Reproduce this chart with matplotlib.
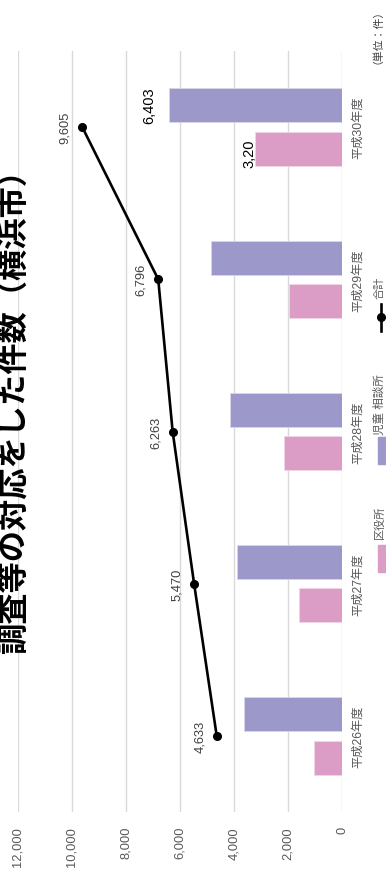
import matplotlib
matplotlib.use('Agg')
import matplotlib.pyplot as plt
from matplotlib.patches import Rectangle
from matplotlib.lines import Line2D
import numpy as np

plt.rcParams['font.family'] = ['Liberation Sans', 'Noto Sans CJK JP']

# 年度ごとの件数（横浜市）
years = ['平成26年度', '平成27年度', '平成28年度', '平成29年度', '平成30年度']
kuyakusho = [1023, 1582, 2133, 1970, 3202]      # 区役所
jidou_soudan = [3610, 3888, 4130, 4826, 6403]   # 児童相談所
totals = [4633, 5470, 6263, 6796, 9605]         # 合計
xticks = [0, 2000, 4000, 6000, 8000, 10000, 12000]

W, H = 386, 878
purple = '#9c98c9'
pink = '#db9cc5'
gray = '#595959'

fig = plt.figure(figsize=(W / 100, H / 100), dpi=100)

# 横向きに回転した棒グラフ（値は右から左へ）
left, right, top, bottom = 17.5, 342, 52, 813
ax = fig.add_axes([left / W, 1 - bottom / H, (right - left) / W, (bottom - top) / H])

y = np.arange(len(years))
bh = 0.223
off = 0.143
ax.barh(y + off, jidou_soudan, height=bh, color=purple, edgecolor='#d8d6ea', linewidth=0.6, zorder=2)
ax.barh(y - off, kuyakusho, height=bh, color=pink, edgecolor='#f0d6e6', linewidth=0.6, zorder=2)
ax.plot(totals, y, color='black', lw=1.9, marker='o', markersize=5.5, zorder=3)

ax.set_xlim(12000, 0)
ax.set_ylim(-0.5, 4.5)
ax.set_xticks(xticks)
ax.set_xticklabels([f'{v:,}' for v in xticks], rotation=90, fontsize=9.3, color=gray)
ax.grid(axis='x', color='#d9d9d9', lw=1, zorder=0)
ax.tick_params(axis='x', length=0, pad=10)
ax.yaxis.tick_right()
ax.set_yticks(y)
ax.set_yticklabels(years, rotation=90, va='center', fontsize=8.8, color=gray)
ax.tick_params(axis='y', length=0, pad=7.5)
for s in ax.spines.values():
    s.set_visible(False)

# 合計の値ラベル
for v, yy in zip(totals, y):
    ax.annotate(f'{v:,}', (v, yy), xytext=(-17, 0), textcoords='offset pixels',
                rotation=90, ha='center', va='center', fontsize=9.3, color='#404040')

# 平成30年度の棒の値ラベル
ax.annotate(f'{jidou_soudan[-1]:,}', (jidou_soudan[-1], y[-1] + off), xytext=(-20, 1),
            textcoords='offset pixels', rotation=90, ha='center', va='center',
            fontsize=10.5, color='black')
ax.annotate(f'{kuyakusho[-1]:,}'[:-1], (kuyakusho[-1], y[-1] - off), xytext=(-6, -4),
            textcoords='offset pixels', rotation=90, ha='center', va='center',
            fontsize=10.5, color='black')

# タイトル・単位・凡例はピクセル座標で配置
ov = fig.add_axes([0, 0, 1, 1], facecolor='none')
ov.set_xlim(0, W)
ov.set_ylim(H, 0)
ov.axis('off')

ov.text(15, 404, '調査等の対応をした件数（横浜市）', rotation=90, ha='center', va='center',
        fontsize=22.5, fontweight='bold', color='black')
ov.text(372, 31, '（単位：件）', rotation=90, ha='center', va='center', fontsize=7.8, color='#404040')

ov.add_patch(Rectangle((377.5, 546), 10, 27, color=pink, clip_on=False))
ov.text(380, 522, '区役所', rotation=90, ha='center', va='center', fontsize=8, color=gray)
ov.add_patch(Rectangle((377.5, 438), 10, 27, color=purple, clip_on=False))
ov.text(380, 405, '児童 相談所', rotation=90, ha='center', va='center', fontsize=8.3, color=gray)
ov.add_line(Line2D([381, 381], [305, 332], color='black', lw=1.9))
ov.plot([381], [318], 'o', color='black', markersize=5.5)
ov.text(380, 288, '合計', rotation=90, ha='center', va='center', fontsize=8, color=gray)

fig.savefig('out.png', dpi=100)
